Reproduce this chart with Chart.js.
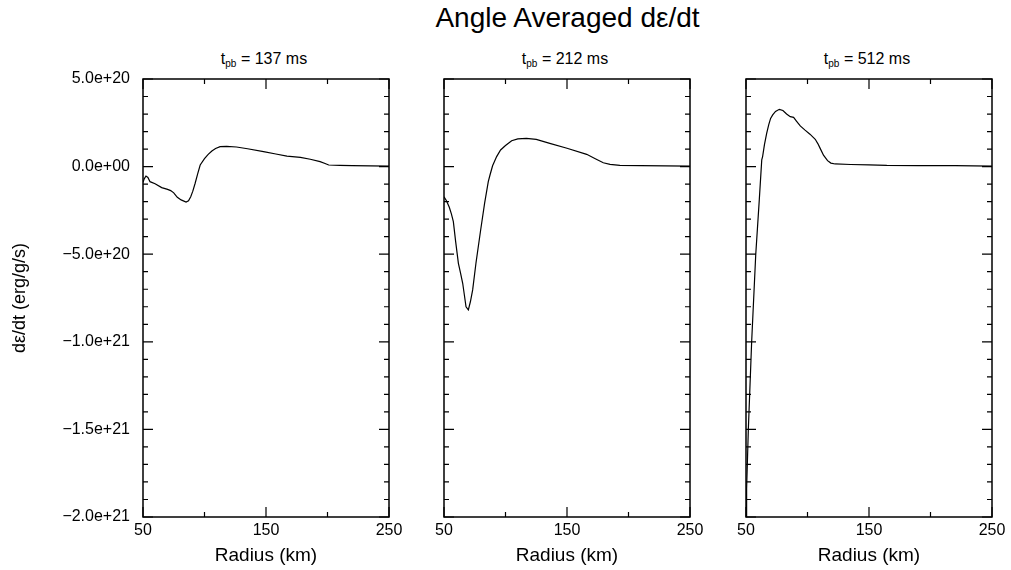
<!DOCTYPE html>
<html>
<head>
<meta charset="utf-8">
<script src="https://cdn.jsdelivr.net/npm/chart.js@4/dist/chart.umd.min.js"></script>
<style>
  body { margin: 0; background: #fff; }
  #wrap { position: relative; width: 1011px; height: 570px; background: #fff; font-family: "Liberation Sans", Arial, sans-serif; color: #000; }
  #wrap canvas { position: absolute; left: 0; top: 0; }
  .ttl { position: absolute; text-align: center; line-height: 1; white-space: nowrap; }
  .ttl sub { font-size: 10px; vertical-align: -3px; line-height: 1; }
</style>
</head>
<body>
<div id="wrap">
  <div class="ttl" style="left:143px;width:849px;top:4px;font-size:28px;">Angle Averaged d&epsilon;/dt</div>
  <div class="ttl" style="left:141px;width:246px;top:51px;font-size:16px;">t<sub>pb</sub> = 137 ms</div>
  <div class="ttl" style="left:442px;width:246px;top:51px;font-size:16px;">t<sub>pb</sub> = 212 ms</div>
  <div class="ttl" style="left:744px;width:246px;top:51px;font-size:16px;">t<sub>pb</sub> = 512 ms</div>
  <canvas id="c1" width="1011" height="570"></canvas>
  <canvas id="c2" width="1011" height="570"></canvas>
  <canvas id="c3" width="1011" height="570"></canvas>
</div>
<script>
// values are in units of 1e20 erg/g/s
var UNIT = 1e20;

var radius137 = [50, 51, 52.4, 54, 55.7, 59.8, 65.2, 70, 72.5, 75, 77.9, 81, 85, 87, 88.8, 90.5, 92.4, 94.5, 96.5, 100, 103, 106, 109, 112.7, 118, 126, 135, 148, 158, 167, 178, 186, 194, 198, 201, 210, 220, 235, 250];
var dedt137 = [-0.9, -0.7, -0.54, -0.62, -0.86, -0.98, -1.2, -1.3, -1.37, -1.5, -1.75, -1.9, -2.02, -1.95, -1.72, -1.4, -0.95, -0.4, 0.09, 0.45, 0.7, 0.89, 1.03, 1.14, 1.15, 1.12, 1.02, 0.85, 0.72, 0.6, 0.53, 0.42, 0.28, 0.18, 0.09, 0.07, 0.05, 0.04, 0.03];

var radius212 = [50, 52, 54.3, 56, 57.6, 59.5, 61.7, 63.5, 65.2, 66.5, 67.9, 69.8, 71.5, 73.3, 76, 79.8, 83, 86, 87.4, 89.5, 92.8, 96, 100, 105, 110, 117, 125, 136, 150, 166, 173, 179.5, 185, 193, 210, 230, 250];
var dedt212 = [-1.72, -1.95, -2.32, -2.7, -3.14, -4.3, -5.52, -6.1, -6.66, -7.3, -8.0, -8.18, -7.7, -7.04, -5.5, -3.62, -2.1, -0.86, -0.48, 0.05, 0.57, 0.95, 1.2, 1.48, 1.58, 1.61, 1.55, 1.33, 1.05, 0.7, 0.45, 0.22, 0.13, 0.07, 0.05, 0.04, 0.03];

var radius512 = [50, 50.5, 51.9, 54.6, 57.9, 60.8, 62.8, 63.5, 65, 66.8, 68.5, 70, 71.7, 74, 77.1, 80, 83, 86, 88.7, 91, 94.1, 98, 102, 106.3, 108.5, 110.3, 113, 116.3, 119, 122.5, 135, 150, 164.5, 190, 220, 250];
var dedt512 = [-20, -18.4, -15, -10, -5.05, -1.9, 0.38, 0.57, 1.25, 1.9, 2.4, 2.75, 2.95, 3.15, 3.27, 3.2, 3.0, 2.85, 2.81, 2.6, 2.32, 2.08, 1.85, 1.56, 1.3, 1.04, 0.65, 0.34, 0.2, 0.15, 0.12, 0.1, 0.07, 0.06, 0.05, 0.03];

var xMajor = [50, 150, 250];
var xMinor = [100, 200];
var yMajor = [-2e21, -1.5e21, -1e21, -5e20, 0, 5e20];
var yMinor = [-1.9e21, -1.8e21, -1.7e21, -1.6e21, -1.4e21, -1.3e21, -1.2e21, -1.1e21, -9e20, -8e20, -7e20, -6e20, -4e20, -3e20, -2e20, -1e20, 1e20, 2e20, 3e20, 4e20];

var FONT = '"Liberation Sans", Arial, sans-serif';

function sciLabel(v) {
  var s = Number(v).toExponential(1);
  s = s.replace(/e([+-])(\d)$/, 'e$10$2');
  return s.replace(/^-/, '\u2212');
}

// frame plus inward ticks on all four sides
var framePlugin = {
  id: 'frame',
  afterDraw: function(chart) {
    var ctx = chart.ctx;
    var a = chart.chartArea;
    var xs = chart.scales.x, ys = chart.scales.y;
    ctx.save();
    ctx.strokeStyle = '#000';
    ctx.lineWidth = 1.5;
    ctx.strokeRect(a.left, a.top, a.right - a.left, a.bottom - a.top);
    ctx.lineWidth = 1.2;
    ctx.beginPath();
    function xt(list, len) {
      list.forEach(function(v) {
        var px = xs.getPixelForValue(v);
        ctx.moveTo(px, a.bottom); ctx.lineTo(px, a.bottom - len);
        ctx.moveTo(px, a.top); ctx.lineTo(px, a.top + len);
      });
    }
    function yt(list, len) {
      list.forEach(function(v) {
        var py = ys.getPixelForValue(v);
        ctx.moveTo(a.left, py); ctx.lineTo(a.left + len, py);
        ctx.moveTo(a.right, py); ctx.lineTo(a.right - len, py);
      });
    }
    xt(xMajor, 10); xt(xMinor, 5);
    yt(yMajor, 10); yt(yMinor, 5);
    ctx.stroke();
    ctx.restore();
  }
};

function buildPanel(id, radii, values, padLeft, padRight, yWidth, showY) {
  var points = [];
  for (var i = 0; i < radii.length; i++) {
    points.push({ x: radii[i], y: values[i] * UNIT });
  }
  var ctx = document.getElementById(id).getContext('2d');
  return new Chart(ctx, {
    type: 'line',
    data: {
      datasets: [{
        data: points,
        borderColor: '#000',
        borderWidth: 1.2,
        pointRadius: 0,
        tension: 0,
        fill: false
      }]
    },
    options: {
      responsive: false,
      animation: false,
      events: [],
      layout: { padding: { left: padLeft, right: padRight, top: 79, bottom: 0 } },
      plugins: { legend: { display: false }, tooltip: { enabled: false } },
      scales: {
        x: {
          type: 'linear',
          min: 50,
          max: 250,
          afterBuildTicks: function(s) { s.ticks = xMajor.map(function(v) { return { value: v }; }); },
          ticks: { color: '#000', font: { family: FONT, size: 16 }, padding: 4, maxRotation: 0, autoSkip: false,
                   callback: function(v) { return String(v); } },
          grid: { display: false, drawTicks: false },
          border: { display: false },
          title: { display: true, text: 'Radius (km)', color: '#000', font: { family: FONT, size: 19 }, padding: { top: 0, bottom: 3 } },
          afterFit: function(s) { s.height = 53; }
        },
        y: {
          type: 'linear',
          min: -2e21,
          max: 5e20,
          afterBuildTicks: function(s) { s.ticks = yMajor.map(function(v) { return { value: v }; }); },
          ticks: { display: showY, color: '#000', font: { family: FONT, size: 16 }, padding: 13, autoSkip: false,
                   callback: function(v) { return sciLabel(v); } },
          grid: { display: false, drawTicks: false },
          border: { display: false },
          title: { display: showY, text: 'd\u03b5/dt (erg/g/s)', color: '#000', font: { family: FONT, size: 18 }, padding: { top: 9, bottom: 0 } },
          afterFit: function(s) { s.width = yWidth; }
        }
      }
    },
    plugins: [framePlugin]
  });
}

buildPanel('c1', radius137, dedt137, 0, 1011 - 389, 143, true);
buildPanel('c2', radius212, dedt212, 444, 1011 - 690, 0, false);
buildPanel('c3', radius512, dedt512, 746, 1011 - 992, 0, false);
</script>
</body>
</html>
